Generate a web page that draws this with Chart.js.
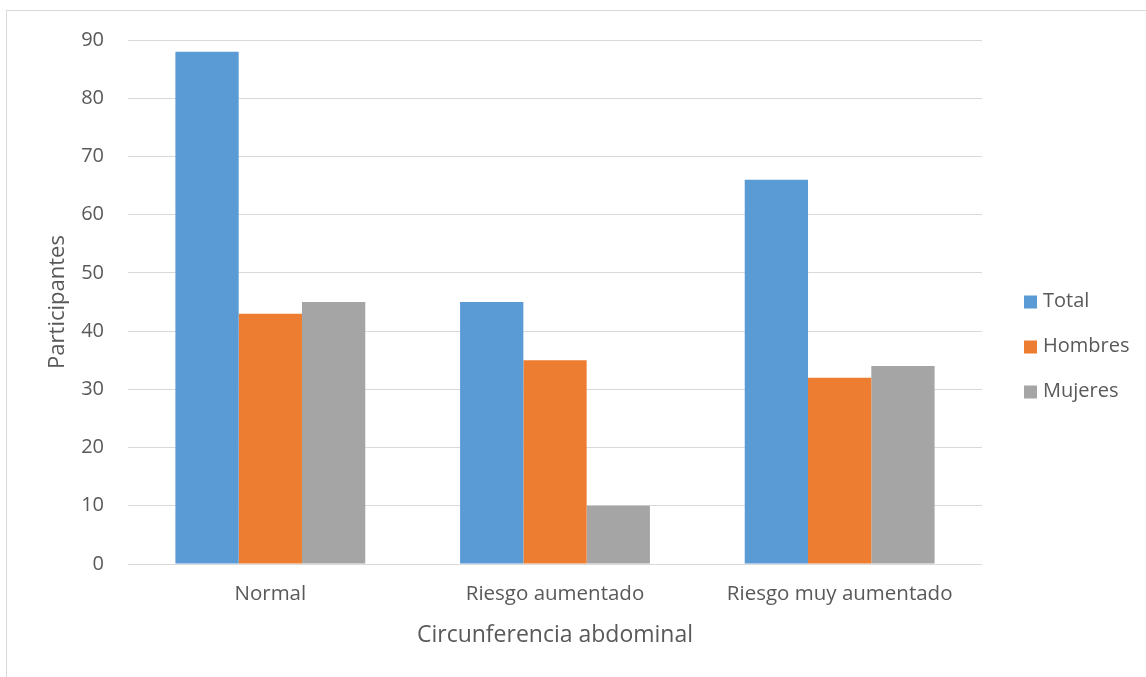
<!DOCTYPE html>
<html>
<head>
<meta charset="utf-8">
<script src="https://cdn.jsdelivr.net/npm/chart.js@4/dist/chart.umd.min.js"></script>
<style>
  html, body { margin: 0; padding: 0; background: #ffffff; overflow: hidden; }
  #frame {
    position: absolute; left: 6px; top: 10px; width: 1300px; height: 800px;
    border: 1px solid #d9d9d9; box-sizing: border-box;
  }
  #wrap { position: absolute; left: 0; top: 0; width: 1146px; height: 677px; }
</style>
</head>
<body>
<div id="frame"></div>
<div id="wrap"><canvas id="chart" width="1146" height="677"></canvas></div>
<script>
// Participantes por categoría de circunferencia abdominal
const categories = ['Normal', 'Riesgo aumentado', 'Riesgo muy aumentado'];
const seriesNames = ['Total', 'Hombres', 'Mujeres'];
const totalValues = [88, 45, 66];
const hombresValues = [43, 35, 32];
const mujeresValues = [45, 10, 34];
const yTicks = [0, 10, 20, 30, 40, 50, 60, 70, 80, 90];

const seriesColors = ['#5B9BD5', '#ED7D31', '#A5A5A5'];
const textColor = '#595959';
const fontFamily = '"Open Sans", "Noto Sans", sans-serif';

// Legend drawn to the right of the plot, one square + label per dataset
const sideLegend = {
  id: 'sideLegend',
  afterDraw(chart) {
    const ctx = chart.ctx;
    const x0 = chart.chartArea.right + 42;
    const firstY = (chart.chartArea.top + chart.chartArea.bottom) / 2;
    const step = 45;
    ctx.save();
    ctx.font = '20px ' + fontFamily;
    ctx.textBaseline = 'middle';
    ctx.textAlign = 'left';
    chart.data.datasets.forEach((ds, i) => {
      const cy = firstY + i * step;
      ctx.fillStyle = ds.backgroundColor;
      ctx.fillRect(x0, cy - 6.5, 13, 13);
      ctx.fillStyle = textColor;
      ctx.fillText(ds.label, x0 + 19, cy - 1);
    });
    ctx.restore();
  }
};

const values = [totalValues, hombresValues, mujeresValues];

new Chart(document.getElementById('chart'), {
  type: 'bar',
  data: {
    labels: categories,
    datasets: seriesNames.map((name, i) => ({
      label: name,
      data: values[i],
      backgroundColor: seriesColors[i],
      borderWidth: 0,
      categoryPercentage: 0.667,
      barPercentage: 1.0
    }))
  },
  plugins: [sideLegend],
  options: {
    responsive: false,
    animation: false,
    devicePixelRatio: 1,
    layout: { padding: { left: 0, right: 164, top: 40, bottom: 0 } },
    plugins: {
      legend: { display: false },
      tooltip: { enabled: false }
    },
    scales: {
      x: {
        grid: { display: false, drawTicks: false },
        border: { display: false },
        ticks: {
          color: textColor,
          font: { family: fontFamily, size: 20.5 },
          padding: 18,
          maxRotation: 0
        },
        title: {
          display: true,
          text: 'Circunferencia abdominal',
          color: textColor,
          font: { family: fontFamily, size: 23 },
          padding: { top: 0, bottom: 28 }
        },
        afterFit(scale) { scale.height = 113; }
      },
      y: {
        min: 0,
        max: 90,
        grid: { color: '#d9d9d9', lineWidth: 1, drawTicks: false },
        border: { display: false },
        afterBuildTicks(scale) { scale.ticks = yTicks.map(v => ({ value: v })); },
        ticks: {
          color: textColor,
          font: { family: fontFamily, size: 20 },
          padding: 24
        },
        title: {
          display: true,
          text: 'Participantes',
          color: textColor,
          font: { family: fontFamily, size: 22 },
          padding: { top: 45, bottom: 0 }
        },
        afterFit(scale) { scale.width = 128; }
      }
    }
  }
});
</script>
</body>
</html>
